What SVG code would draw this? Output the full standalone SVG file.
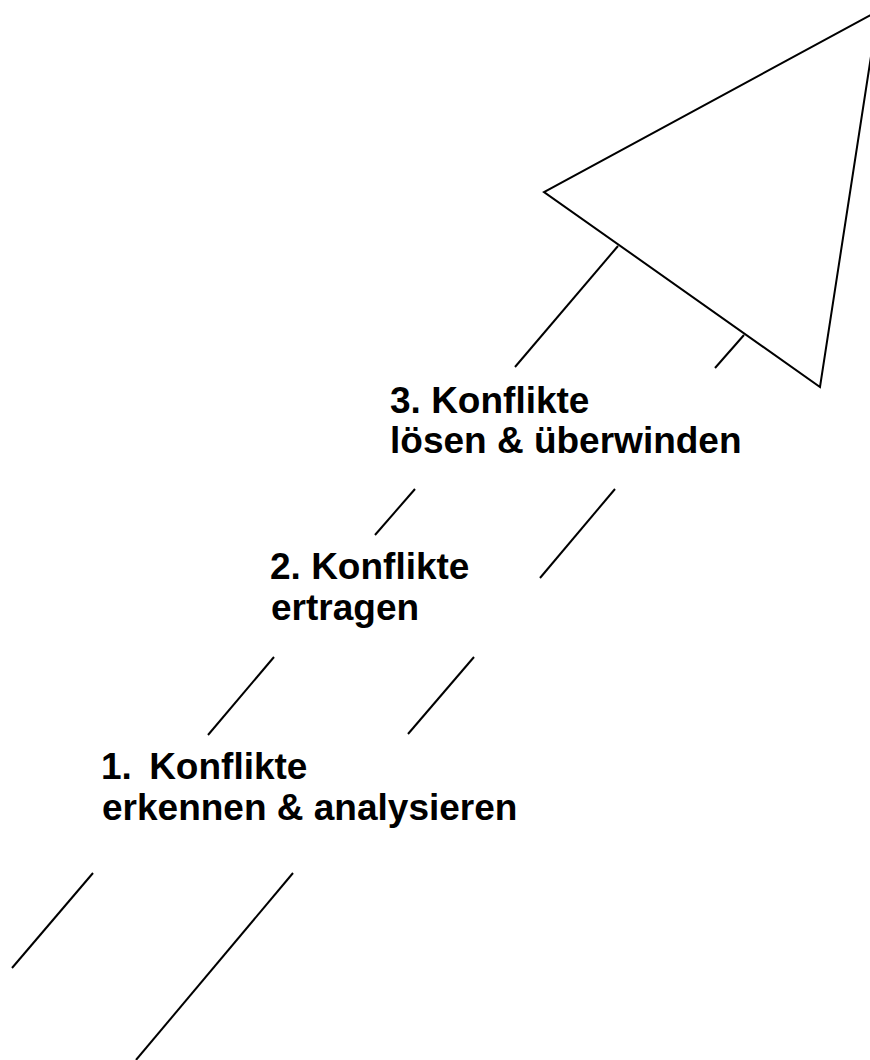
<svg xmlns="http://www.w3.org/2000/svg" width="870" height="1060" viewBox="0 0 870 1060">
  <style>
    .stroke { fill: none; stroke: #000; stroke-width: 2; stroke-linecap: butt; stroke-linejoin: miter; }
    .label { font-family: "Liberation Sans", Arial, sans-serif; font-weight: bold; font-size: 37px; fill: #000; }
  </style>
  <rect width="870" height="1060" fill="#fff"/>

  <!-- arrow head -->
  <g id="arrow-head">
    <polygon class="stroke" points="878,11 544,192 820,387"/>
  </g>

  <!-- dashed shaft: two parallel broken lines -->
  <g id="shaft">
    <line class="stroke" x1="618" y1="246" x2="515" y2="367"/>
    <line class="stroke" x1="415" y1="489" x2="375" y2="535"/>
    <line class="stroke" x1="274" y1="657" x2="208" y2="735"/>
    <line class="stroke" x1="93" y1="873" x2="12" y2="968"/>

    <line class="stroke" x1="744" y1="335" x2="715" y2="368"/>
    <line class="stroke" x1="615" y1="489" x2="540" y2="578"/>
    <line class="stroke" x1="474" y1="657" x2="408" y2="734"/>
    <line class="stroke" x1="293" y1="873" x2="136" y2="1060"/>
  </g>

  <g id="step-1">
    <text class="label" x="101" y="779">1. <tspan dx="7">Konflikte</tspan></text>
    <text class="label" x="102" y="820">erkennen &amp; analysieren</text>
  </g>
  <g id="step-2">
    <text class="label" x="270" y="579">2. Konflikte</text>
    <text class="label" x="271" y="620">ertragen</text>
  </g>
  <g id="step-3">
    <text class="label" x="390" y="413">3. Konflikte</text>
    <text class="label" x="390" y="453">lösen &amp; überwinden</text>
  </g>
</svg>
